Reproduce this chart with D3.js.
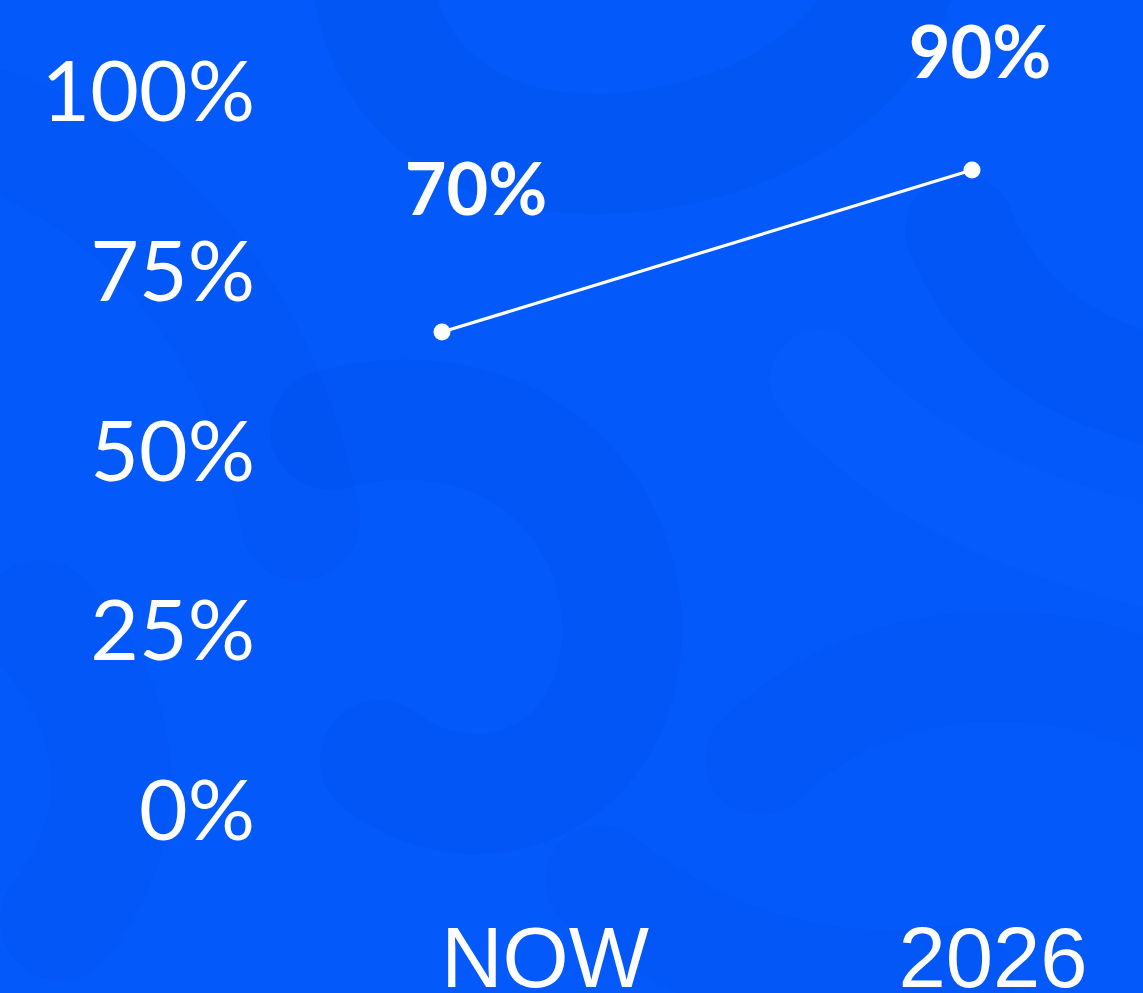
<!DOCTYPE html>
<html>
<head>
<meta charset="utf-8">
<script src="https://cdn.jsdelivr.net/npm/d3@7"></script>
<style>
  html, body { margin: 0; padding: 0; background: #0459FB; overflow: hidden; }
  svg { display: block; }
</style>
</head>
<body>
<svg id="chart" width="1143" height="993"></svg>
<script>
// ---- data ----
const categories = ["NOW", "2026"];
const values = [70, 90];
const valueLabels = ["70%", "90%"];
const yTicks = [0, 25, 50, 75, 100];
const yTickLabels = ["0%", "25%", "50%", "75%", "100%"];

// ---- layout ----
const W = 1143, H = 993;
const svg = d3.select("#chart");

// background
svg.append("rect").attr("width", W).attr("height", H).attr("fill", "#0459FB");
const bg = svg.append("g").attr("fill", "none").attr("stroke-linecap", "round");
const swirls = [
  {d: "M370,-40 C380,120 520,170 650,150 C780,130 880,60 900,-40", w: 120, c: "#0150E6", o: 0.3},
  {d: "M960,230 C1000,330 1080,380 1200,400", w: 110, c: "#0150E6", o: 0.25},
  {d: "M330,430 C520,380 640,520 620,660 C600,790 470,830 380,760", w: 120, c: "#0150E6", o: 0.25},
  {d: "M40,620 C120,700 140,820 60,920", w: 120, c: "#0150E6", o: 0.2},
  {d: "M760,760 C860,660 1020,640 1160,700", w: 110, c: "#0150E6", o: 0.2},
  {d: "M-40,120 C120,160 260,300 300,520", w: 120, c: "#0150E6", o: 0.18},
  {d: "M820,380 C900,470 1000,520 1160,560", w: 100, c: "#0A62FF", o: 0.25},
  {d: "M600,880 C700,960 820,1000 960,980", w: 110, c: "#0150E6", o: 0.18}
];
swirls.forEach(s => bg.append("path").attr("d", s.d).attr("stroke", s.c)
  .attr("stroke-width", s.w).attr("opacity", s.o));

// scales
const yAxisScale = d3.scaleLinear().domain([0, 100]).range([810, 91]);
const yLine = d3.scaleLinear().domain([0, 100]).range([899, 89]);
const xPoint = d3.scalePoint().domain(categories).range([442, 972]);
const xLabel = d3.scalePoint().domain(categories).range([545, 993]);

// y axis labels
svg.append("g").selectAll("text").data(yTicks).join("text")
  .attr("x", 255)
  .attr("y", d => yAxisScale(d))
  .attr("dy", "0.36em")
  .attr("text-anchor", "end")
  .attr("fill", "#fff")
  .attr("font-family", "Lato, 'Open Sans', sans-serif")
  .attr("font-weight", 400)
  .attr("font-size", 84)
  .text((d, i) => yTickLabels[i]);

// x axis labels
svg.append("g").selectAll("text").data(categories).join("text")
  .attr("x", d => xLabel(d))
  .attr("y", 987)
  .attr("text-anchor", "middle")
  .attr("fill", "#fff")
  .attr("font-family", "'Liberation Sans', Arial, sans-serif")
  .attr("font-weight", 400)
  .attr("font-size", 85)
  .text(d => d);

// line
const pts = categories.map((c, i) => [xPoint(c), yLine(values[i])]);
svg.append("path")
  .attr("d", d3.line()(pts))
  .attr("fill", "none")
  .attr("stroke", "#fff")
  .attr("stroke-width", 3.2);
svg.append("g").selectAll("circle").data(pts).join("circle")
  .attr("cx", d => d[0]).attr("cy", d => d[1]).attr("r", 8.5).attr("fill", "#fff");

// value labels (offsets from their points)
const labelOffsets = [[34, -117], [8, -92]];
svg.append("g").selectAll("text").data(pts).join("text")
  .attr("x", (d, i) => d[0] + labelOffsets[i][0])
  .attr("y", (d, i) => d[1] + labelOffsets[i][1])
  .attr("text-anchor", "middle")
  .attr("fill", "#fff")
  .attr("font-family", "Lato, 'Open Sans', sans-serif")
  .attr("font-weight", 700)
  .attr("font-size", 72)
  .text((d, i) => valueLabels[i]);
</script>
</body>
</html>
